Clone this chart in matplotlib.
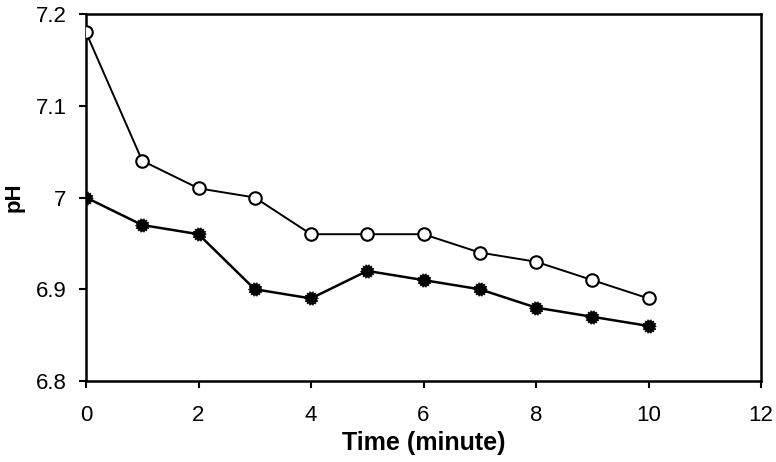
import matplotlib
matplotlib.use("Agg")
import matplotlib.pyplot as plt
import numpy as np

time = [0, 1, 2, 3, 4, 5, 6, 7, 8, 9, 10]
ph_open = [7.18, 7.04, 7.01, 7.00, 6.96, 6.96, 6.96, 6.94, 6.93, 6.91, 6.89]
ph_filled = [7.00, 6.97, 6.96, 6.90, 6.89, 6.92, 6.91, 6.90, 6.88, 6.87, 6.86]
xticks = [0, 2, 4, 6, 8, 10, 12]
yticks = [6.8, 6.9, 7.0, 7.1, 7.2]
yticklabels = ["6.8", "6.9", "7", "7.1", "7.2"]

# spiky filled-circle marker shape
n_spikes = 14
ang = np.linspace(0, 2 * np.pi, 2 * n_spikes, endpoint=False)
rad = np.where(np.arange(2 * n_spikes) % 2 == 0, 1.0, 0.78)
spiky = list(zip(rad * np.cos(ang), rad * np.sin(ang)))

plt.rcParams['font.family'] = ['Liberation Sans', 'DejaVu Sans']
fig = plt.figure(figsize=(7.76, 4.62), dpi=100)
ax = fig.add_axes([86/776, 1-381/462, (761-86)/776, (381-14)/462])

ax.plot(time, ph_open, color='black', lw=1.4, marker='o', ms=9,
        markerfacecolor='white', markeredgecolor='black', markeredgewidth=1.5, zorder=3)
ax.plot(time, ph_filled, color='black', lw=1.8, marker=spiky, ms=10,
        markerfacecolor='black', markeredgecolor='black', markeredgewidth=0.5, zorder=3)

ax.set_xlim(0, 12)
ax.set_ylim(6.8, 7.2)
ax.set_xticks(xticks)
ax.set_yticks(yticks)
ax.set_yticklabels(yticklabels)
ax.tick_params(direction='out', length=5, width=1.5, labelsize=16, colors='black', pad=9)
ax.tick_params(axis='x', pad=12)
for s in ax.spines.values():
    s.set_linewidth(1.8)
    s.set_color('black')
ax.set_xlabel('Time (minute)', fontsize=18, fontweight='bold', labelpad=4)
ax.set_ylabel('pH', fontsize=16, fontweight='bold', labelpad=8)

fig.savefig('out.png', dpi=100)
